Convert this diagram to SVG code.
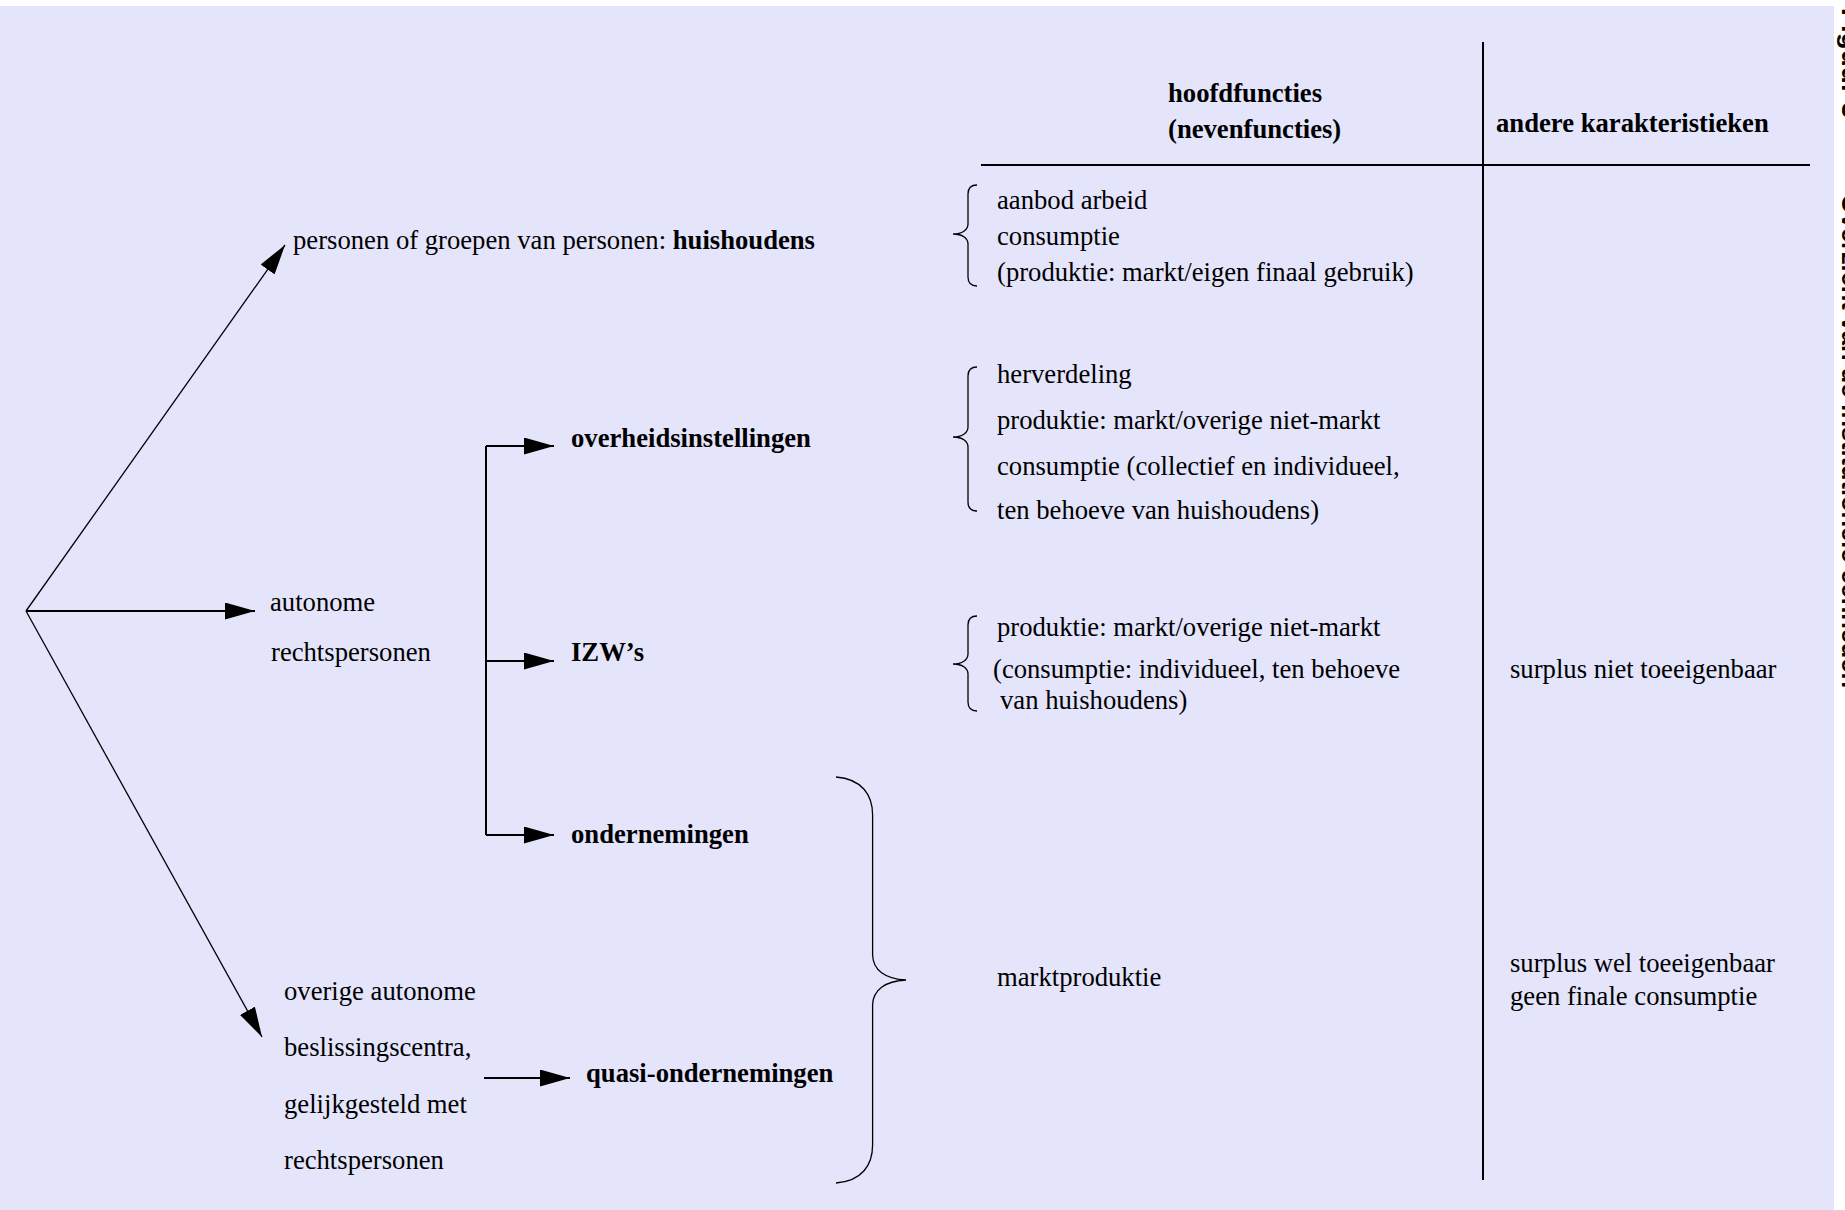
<svg xmlns="http://www.w3.org/2000/svg" width="1845" height="1210" viewBox="0 0 1845 1210">
<defs>
<style>
text{font-family:"Liberation Serif","Times New Roman",serif;font-size:26.67px;fill:#000}
.b{font-weight:bold}
.ln{stroke:#000;fill:none;stroke-linecap:butt}
.thin{stroke-width:1.3}
.med{stroke-width:2}
.side{font-family:"Liberation Sans",Arial,sans-serif;font-weight:bold;font-size:25px}
</style>
<marker id="ah" viewBox="0 0 30 17" refX="30" refY="8.5" markerWidth="30" markerHeight="17" markerUnits="userSpaceOnUse" orient="auto"><path d="M0,0 L30,8.5 L0,17 z" fill="#000"/></marker>
</defs>
<rect x="0" y="0" width="1845" height="1210" fill="#ffffff"/>
<rect x="0" y="6" width="1834" height="1204" fill="#e4e4fb"/>

<g id="connectors">
<path class="ln thin" d="M26,611 L285,245" marker-end="url(#ah)"/>
<path class="ln med" d="M26,611 L255,611" marker-end="url(#ah)"/>
<path class="ln thin" d="M26,611 L262,1037" marker-end="url(#ah)"/>
<path class="ln med" d="M486,446 L486,835"/>
<path class="ln med" d="M486,446 L554,446" marker-end="url(#ah)"/>
<path class="ln med" d="M486,661 L554,661" marker-end="url(#ah)"/>
<path class="ln med" d="M486,835 L554,835" marker-end="url(#ah)"/>
<path class="ln med" d="M484,1078 L570,1078" marker-end="url(#ah)"/>
</g>

<g id="braces">
<path class="ln thin" d="M836,777 C862,779 872.6,795 872.6,815 L872.6,955 C873,970 885,979 906,980 C885,981 873,990 872.6,1005 L872.6,1145 C872.6,1165 862,1181 836,1183"/>
<path class="ln thin" d="M977,185 C971,185 968,188 968,194 L968,224 C968,230 962,234 953,234 C962,234 968,238 968,244 L968,277 C968,283 971,286 977,286"/>
<path class="ln thin" d="M977,367 C971,367 968,370 968,376 L968,427 C968,433 962,437 953,437 C962,437 968,441 968,447 L968,502 C968,508 971,511 977,511"/>
<path class="ln thin" d="M977,616 C971,616 968,619 968,625 L968,654 C968,660 962,664 953,664 C962,664 968,668 968,674 L968,702 C968,708 971,711 977,711"/>
</g>

<g id="table">
<path class="ln med" d="M981,165 L1810,165"/>
<path class="ln med" d="M1483,42 L1483,1180"/>
<text class="b" x="1168" y="102">hoofdfuncties</text>
<text class="b" x="1168" y="138">(nevenfuncties)</text>
<text class="b" x="1496" y="132">andere karakteristieken</text>
</g>

<g id="node-huishoudens">
<text x="293" y="249">personen of groepen van personen: <tspan class="b">huishoudens</tspan></text>
</g>
<g id="node-autonome">
<text x="270" y="611">autonome</text>
<text x="271" y="661">rechtspersonen</text>
</g>
<g id="node-overheid">
<text class="b" x="571" y="447">overheidsinstellingen</text>
</g>
<g id="node-izw">
<text class="b" x="571" y="661">IZW’s</text>
</g>
<g id="node-ondernemingen">
<text class="b" x="571" y="843">ondernemingen</text>
</g>
<g id="node-overige">
<text x="284" y="1000">overige autonome</text>
<text x="284" y="1056">beslissingscentra,</text>
<text x="284" y="1113">gelijkgesteld met</text>
<text x="284" y="1169">rechtspersonen</text>
</g>
<g id="node-quasi">
<text class="b" x="586" y="1082">quasi-ondernemingen</text>
</g>

<g id="func-huishoudens">
<text x="997" y="209">aanbod arbeid</text>
<text x="997" y="245">consumptie</text>
<text x="997" y="281">(produktie: markt/eigen finaal gebruik)</text>
</g>
<g id="func-overheid">
<text x="997" y="383">herverdeling</text>
<text x="997" y="429">produktie: markt/overige niet-markt</text>
<text x="997" y="475">consumptie (collectief en individueel,</text>
<text x="997" y="519">ten behoeve van huishoudens)</text>
</g>
<g id="func-izw">
<text x="997" y="636">produktie: markt/overige niet-markt</text>
<text x="993" y="678">(consumptie: individueel, ten behoeve</text>
<text x="1000" y="709">van huishoudens)</text>
</g>
<g id="func-markt">
<text x="997" y="986">marktproduktie</text>
</g>
<g id="char-izw">
<text x="1510" y="678">surplus niet toeeigenbaar</text>
</g>
<g id="char-markt">
<text x="1510" y="972">surplus wel toeeigenbaar</text>
<text x="1510" y="1005">geen finale consumptie</text>
</g>

<g id="side-caption">
<text class="side" transform="translate(1842,8) rotate(90)" textLength="110" lengthAdjust="spacingAndGlyphs">Figuur 3</text>
<text class="side" transform="translate(1842,194) rotate(90)" textLength="494" lengthAdjust="spacingAndGlyphs">Overzicht van de institutionele eenheden</text>
</g>
</svg>
